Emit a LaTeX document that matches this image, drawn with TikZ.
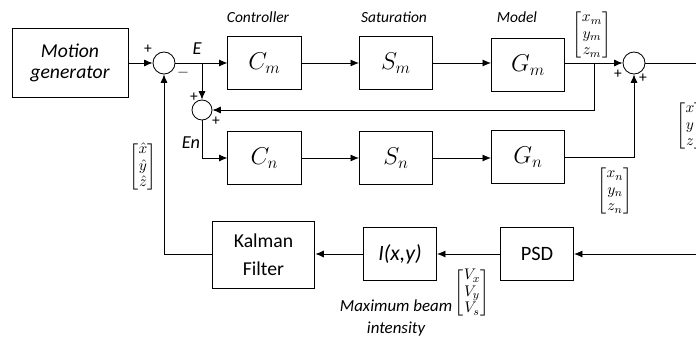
\documentclass[tikz,border=0pt]{standalone}
\usepackage{amsmath}
\usepackage{fontspec}
\setmainfont{Carlito}
\usetikzlibrary{arrows.meta,calc}
\newcommand\colvec[3]{{\renewcommand\arraystretch{0.9}\setlength\arraycolsep{1pt}$\begin{bmatrix}#1\\#2\\#3\end{bmatrix}$}}

\begin{document}
\begin{tikzpicture}[x=0.025cm, y=-0.025cm, line width=0.6pt,
  font=\fontsize{12}{14}\selectfont,
  blk/.style={draw, line width=0.6pt, minimum width=1.83cm, minimum height=1.32cm, align=center, inner sep=1pt},
  mblk/.style={blk, font=\fontsize{17}{20}\selectfont},
  sumnode/.style={draw, circle, minimum size=0.55cm, inner sep=0pt},
  sig/.style={-{Latex[length=6pt,width=5pt]}},
  sgn/.style={font=\fontsize{11}{11}\selectfont, inner sep=0pt},
  lbl/.style={font=\itshape\fontsize{11}{15.5}\selectfont, align=center},
  vec/.style={font=\fontsize{11}{13}\selectfont, inner sep=0pt}]
\useasboundingbox (0,0) rectangle (696,339);
\clip (0,0) rectangle (696,339);
% ---------------- upper branch (model)
\node[blk, font=\itshape\fontsize{14}{14.5}\selectfont, minimum width=2.9cm, minimum height=1.72cm] (gen) at (70,63) {Motion\\ generator};
\node[sumnode] (sum1) at (164,63) {};
\node[mblk] (cm) at (264.5,63) {$C_m$};
\node[mblk] (sm) at (396,63) {$S_m$};
\node[mblk] (gm) at (528,65) {$G_m$};
\node[sumnode] (sum3) at (634,63) {};
\node[lbl] (tc) at (258,17) {Controller};
\node[lbl] (ts) at (394,17) {Saturation};
\node[lbl] (tm) at (517,17) {Model};
% ---------------- lower branch
\node[sumnode, minimum size=0.5cm] (sum2) at (202,110) {};
\node[mblk] (cn) at (264.5,158) {$C_n$};
\node[mblk] (sn) at (396,158) {$S_n$};
\node[mblk] (gn) at (528,157) {$G_n$};
% ---------------- measurement
\node[blk, font=\fontsize{14.5}{20}\selectfont] (psd) at (537,254) {PSD};
\node[blk, font=\itshape\fontsize{15.5}{16}\selectfont] (ixy) at (400,254) {I(x,y)};
\node[blk, font=\fontsize{14}{20}\selectfont, minimum width=2.57cm, minimum height=1.67cm] (kal) at (263.5,255) {Kalman\\ Filter};
\node[lbl, font=\itshape\fontsize{12}{15.5}\selectfont] (tmax) at (396,318) {Maximum beam\\ intensity};
% ---------------- signs and signal labels
\node[sgn] (p1) at (148,49) {+};
\node[sgn] (m1) at (183,73) {$-$};
\node[sgn] (p2) at (194,97) {+};
\node[sgn] (p3) at (216,121) {+};
\node[sgn] (p4) at (618,74) {+};
\node[sgn] (p5) at (643,78) {+};
\node[font=\itshape\fontsize{13}{14}\selectfont] (lE) at (197,49) {E};
\node[font=\itshape\fontsize{13}{14}\selectfont] (lEn) at (191,143) {En};
\node[vec] (vm) at (592,35) {\colvec{x_m}{y_m}{z_m}};
\node[vec] (vn) at (615,191) {\colvec{x_n}{y_n}{z_n}};
\node[vec] (vo) at (690,126) {\colvec{x}{y}{z}};
\node[vec] (vh) at (143,167) {\colvec{\hat{x}}{\hat{y}}{\hat{z}}};
\node[vec] (vv) at (472,293) {\colvec{V_x}{V_y}{V_s}};
% ---------------- connectors
\coordinate (eb) at (sum2 |- sum1);
\coordinate (mb) at (594,63);
\coordinate (out) at (700,63);
\coordinate (in) at (700,254);
\draw[sig] (gen) -- (sum1);
\draw[sig] (sum1) -- (cm);
\draw[sig] (cm) -- (sm);
\draw[sig] (sm) -- (gm.west |- sm);
\draw[sig] (gm.east |- sum3) -- (sum3);
\draw (sum3) -- (out);
\draw[sig] (eb) -- (sum2);
\draw[sig] (mb) |- (sum2);
\draw[sig] (sum2) |- (cn);
\draw[sig] (cn) -- (sn);
\draw[sig] (sn) -- (gn.west |- sn);
\draw[sig] (gn) -| (sum3);
\draw[sig] (in) -- (psd);
\draw[sig] (psd) -- (ixy);
\draw[sig] (ixy) -- (kal.east |- ixy);
\draw[sig] (kal.west |- ixy) -| (sum1);
\end{tikzpicture}
\end{document}
